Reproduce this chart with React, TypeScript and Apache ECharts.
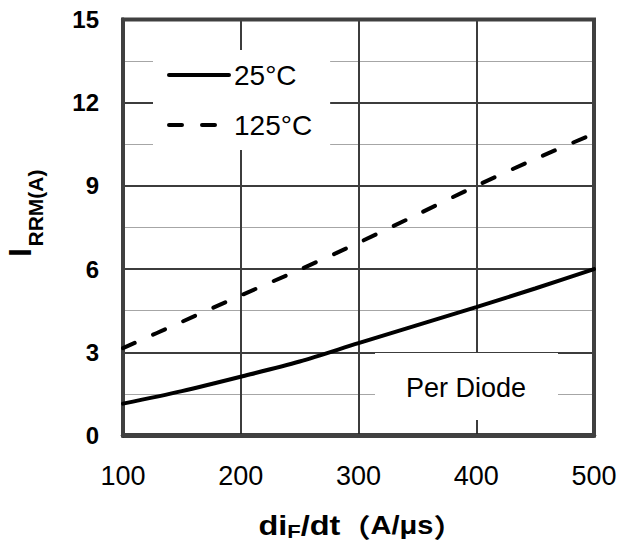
import React, { useEffect, useRef } from "react";
import * as echarts from "echarts";

const xTicks = [100, 200, 300, 400, 500];
const yTicks = [0, 3, 6, 9, 12, 15];
const seriesNames = ["25°C", "125°C"];
const rate = [100, 150, 200, 250, 300, 350, 400, 450, 500];
const irrm25 = [1.15, 1.6, 2.12, 2.67, 3.33, 3.98, 4.63, 5.3, 6.0];
const irrm125 = [3.15, 4.1, 5.05, 5.98, 6.95, 7.97, 9.0, 9.97, 10.88];
const noteText = "Per Diode";

const FONT = '"Liberation Sans", Arial, "Noto Sans CJK SC", sans-serif';
const CJK = '"Noto Sans CJK SC", sans-serif';
const DASH = [13, 20];

export default function App() {
  const ref = useRef<HTMLDivElement>(null);
  useEffect(() => {
    if (!ref.current) return;
    const chart = echarts.init(ref.current, undefined, { renderer: "svg" });
    const pairs = (vals: number[]) => rate.map((x, i) => [x, vals[i]]);
    chart.setOption({
      animation: false,
      backgroundColor: "#ffffff",
      grid: {
        left: 123,
        top: 19.5,
        width: 471,
        height: 416,
        show: true,
        borderColor: "#404040",
        borderWidth: 4,
        backgroundColor: "transparent",
        z: 3,
      },
      xAxis: {
        type: "value",
        min: xTicks[0],
        max: xTicks[xTicks.length - 1],
        interval: 100,
        axisLine: { show: true, lineStyle: { color: "#000", width: 4.5 } },
        axisTick: { show: false },
        axisLabel: {
          color: "#000",
          fontSize: 27,
          fontFamily: FONT,
          margin: 27,
        },
        splitLine: { show: true, lineStyle: { color: "#3c3c3c", width: 2 } },
      },
      yAxis: {
        type: "value",
        min: yTicks[0],
        max: yTicks[yTicks.length - 1],
        interval: 3,
        axisLine: { show: true, lineStyle: { color: "#000", width: 4 } },
        axisTick: { show: false },
        axisLabel: {
          color: "#000",
          fontSize: 24,
          fontWeight: "bold",
          fontFamily: FONT,
          margin: 24,
        },
        splitLine: { show: true, lineStyle: { color: "#3c3c3c", width: 2 } },
        minorTick: { show: false, splitNumber: 2 },
        minorSplitLine: { show: true, lineStyle: { color: "#a6a6a6", width: 1 } },
      },
      legend: {
        left: 153,
        top: 50,
        orient: "vertical",
        backgroundColor: "#ffffff",
        padding: [11, 18, 11, 14],
        itemWidth: 60,
        itemHeight: 20,
        itemGap: 22,
        itemStyle: { opacity: 0 },
        textStyle: {
          color: "#000",
          fontSize: 28,
          fontFamily: FONT,
          lineHeight: 26,
        },
        data: [
          { name: seriesNames[0], lineStyle: { width: 4, color: "#000", type: "solid", cap: "round" } },
          { name: seriesNames[1], lineStyle: { width: 4, color: "#000", type: DASH, cap: "round" } },
        ],
        z: 10,
      },
      series: [
        {
          name: seriesNames[0],
          type: "line",
          data: pairs(irrm25),
          smooth: 0.3,
          symbol: "none",
          lineStyle: { color: "#000", width: 4, cap: "round" },
          itemStyle: { color: "#000" },
          z: 5,
        },
        {
          name: seriesNames[1],
          type: "line",
          data: pairs(irrm125),
          smooth: 0.3,
          symbol: "none",
          lineStyle: { color: "#000", width: 4, type: DASH, cap: "round" },
          itemStyle: { color: "#000" },
          z: 5,
        },
      ],
      graphic: [
        {
          type: "rect",
          z: 100,
          shape: { x: 375, y: 353, width: 183, height: 67 },
          style: { fill: "#ffffff" },
        },
        {
          type: "text",
          z: 101,
          x: 466,
          y: 388,
          style: {
            text: noteText,
            font: `27px ${FONT}`,
            fill: "#000",
            align: "center",
            verticalAlign: "middle",
          },
        },
        {
          type: "text",
          z: 101,
          x: 20,
          y: 252.5,
          rotation: Math.PI / 2,
          style: {
            text: "I",
            font: `bold 32px ${FONT}`,
            fill: "#000",
            align: "center",
            verticalAlign: "middle",
          },
        },
        {
          type: "text",
          z: 101,
          x: 35,
          y: 208,
          rotation: Math.PI / 2,
          style: {
            text: "RRM(A)",
            font: `bold 21px ${FONT}`,
            fill: "#000",
            align: "center",
            verticalAlign: "middle",
          },
        },
        {
          type: "text",
          z: 101,
          x: 361,
          y: 525,
          scaleX: 1.16,
          style: {
            text: "{a|di}{b|F}{a|/dt}{p|（}{c|A/μs}{p|）}",
            align: "center",
            verticalAlign: "middle",
            rich: {
              a: { fontSize: 28, fontWeight: "bold", fontFamily: FONT, fill: "#000", color: "#000" },
              b: {
                fontSize: 19,
                fontWeight: "bold",
                fontFamily: FONT,
                fill: "#000",
                color: "#000",
                padding: [13, 0, 0, 0],
              },
              p: { fontSize: 26, fontWeight: "bold", fontFamily: CJK, fill: "#000", color: "#000" },
              c: { fontSize: 25, fontWeight: "bold", fontFamily: FONT, fill: "#000", color: "#000" },
            },
          },
        },
      ],
    });
    return () => chart.dispose();
  }, []);
  return (
    <div
      ref={ref}
      style={{ position: "fixed", left: 0, top: 0, width: 620, height: 544 }}
    />
  );
}
